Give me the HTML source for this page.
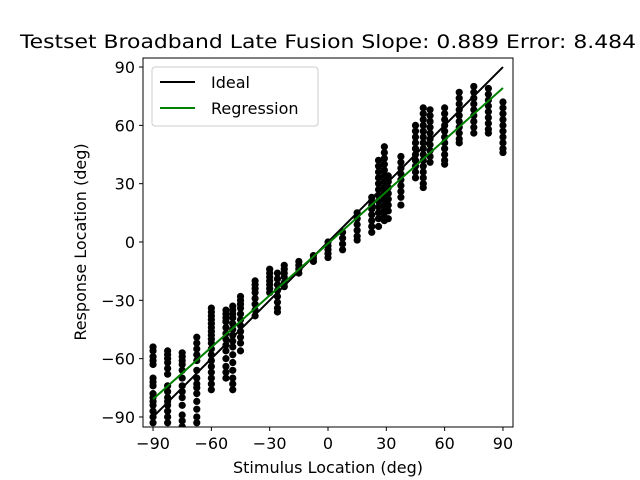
<!DOCTYPE html>
<html><head><meta charset="utf-8"><style>
body{margin:0;background:#fff}
svg{display:block;font-family:"DejaVu Sans","Liberation Sans",sans-serif}
</style></head><body>
<svg id="chart" width="640" height="480" xmlns="http://www.w3.org/2000/svg">
<rect width="640" height="480" fill="#fff"/>
<text x="20" y="48" font-size="19" textLength="616" lengthAdjust="spacingAndGlyphs">Testset Broadband Late Fusion Slope: 0.889 Error: 8.484</text>
<g id="marks"></g>
<rect x="143" y="58" width="370" height="369" fill="none" stroke="#000" stroke-width="1"/>
<g id="ticks"></g>
<text x="328" y="473" font-size="16" text-anchor="middle">Stimulus Location (deg)</text>
<text transform="translate(86,242) rotate(-90)" font-size="16" text-anchor="middle">Response Location (deg)</text>
<g>
<rect x="152" y="67" width="166" height="59" rx="3" fill="#fff" fill-opacity="0.8" stroke="#ccc"/>
<line x1="160" y1="82" x2="195" y2="82" stroke="#000" stroke-width="2"/>
<text x="211" y="88" font-size="16">Ideal</text>
<line x1="160" y1="108" x2="195" y2="108" stroke="green" stroke-width="2"/>
<text x="211" y="114" font-size="16">Regression</text>
</g>
</svg>
<script>
const stimulus = [-90,-82.5,-75,-67.5,-60,-52.5,-49,-45,-37.5,-30,-26,-22.5,-15,-7.5,0,7.5,15,22.5,26,29,31,37.5,45,49,52.5,60,67.5,75,82.5,90];
const responses = [
 [-54,-56,-59,-61,-63,-70,-72,-74,-78,-80,-82,-84,-87,-90,-93],
 [-56,-58,-60,-62,-65,-68,-74,-77,-80,-82,-84,-87,-90,-93],
 [-57,-59,-61,-63,-66,-70,-74,-77,-80,-84,-89,-92,-95],
 [-49,-52,-55,-58,-61,-66,-70,-73,-75,-78,-82,-86,-90,-93],
 [-34,-36,-38,-40,-42,-44,-46,-48,-50,-52,-55,-58,-61,-64,-67,-70,-73,-76],
 [-35,-37,-39,-41,-44,-47,-50,-53,-56,-60,-64,-67,-70],
 [-33,-35,-37,-39,-42,-45,-48,-51,-54,-58,-62,-66,-70,-73,-76],
 [-28,-30,-32,-34,-37,-40,-43,-46,-49,-52,-56],
 [-20,-22,-24,-26,-29,-32,-35,-38],
 [-14,-16,-18,-20,-22,-24,-26],
 [-16,-19,-22,-25,-28,-31,-34,-36],
 [-12,-14,-16,-18,-21,-23],
 [-10,-12,-14,-16],
 [-7,-8.5,-10],
 [0,-2,-4,-6,-8],
 [5,2,-1,-4],
 [15,12,9,6,3,1],
 [23,21,19,17,14,11,8,5],
 [42,39,36,33,30,27,24,21,18,15,12,8],
 [49,46,43,40,37,34,31,28,25,22,19,16,13,11],
 [34,31,28,25,22,19,16,12],
 [44,41,38,35,32,29,26,23,19],
 [60,57,54,51,48,45,42,39,36,33],
 [69,66,63,60,57,54,51,48,45,42,39,36,33,30,28],
 [68,65,62,59,56,53,50,47,44,41],
 [69,66,63,60,57,54,51,48,45,42,40],
 [77,74,71,68,65,62,59,56,53,51],
 [80,77,74,71,68,65,62,59,56],
 [79,76,73,70,67,64,61,58,56],
 [72,69,66,63,60,57,54,51,48,46]
];
const xTicks = [-90,-60,-30,0,30,60,90];
const yTicks = [-90,-60,-30,0,30,60,90];
const slope = 0.889;
const intercept = -0.8;
const NS='http://www.w3.org/2000/svg';
const sx = v => 328 + v*1.944;
const sy = v => 242 - v*1.944;
const marks = document.getElementById('marks');
const ticks = document.getElementById('ticks');
function mk(tag, attrs, parent){const e=document.createElementNS(NS,tag);for(const k in attrs)e.setAttribute(k,attrs[k]);parent.appendChild(e);return e;}
const clip = mk('clipPath',{id:'pc'},document.getElementById('chart'));
mk('rect',{x:143,y:58,width:370,height:369},clip);
marks.setAttribute('clip-path','url(#pc)');
stimulus.forEach((s,i)=>{
  responses[i].forEach(r=>{
    const c = mk('circle',{cx:sx(s),cy:sy(r),r:3.6,fill:'#000'},marks);
    
    
  });
});
const ideal = mk('line',{x1:sx(-90),y1:sy(-90),x2:sx(90),y2:sy(90),stroke:'#000','stroke-width':2},marks);


const reg = mk('line',{x1:sx(-90),y1:sy(slope*-90+intercept),x2:sx(90),y2:sy(slope*90+intercept),stroke:'green','stroke-width':2},marks);


xTicks.forEach(t=>{
  mk('line',{x1:sx(t),y1:427,x2:sx(t),y2:431,stroke:'#000'},ticks);
  const tx = mk('text',{x:sx(t),y:449,'font-size':16,'text-anchor':'middle'},ticks);
  tx.textContent = t<0 ? '\u2212'+Math.abs(t) : String(t);
  
  
});
yTicks.forEach(t=>{
  mk('line',{x1:139,y1:sy(t),x2:143,y2:sy(t),stroke:'#000'},ticks);
  const tx = mk('text',{x:135,y:sy(t)+6,'font-size':16,'text-anchor':'end'},ticks);
  tx.textContent = t<0 ? '\u2212'+Math.abs(t) : String(t);
  
  
});
</script>
</body></html>
